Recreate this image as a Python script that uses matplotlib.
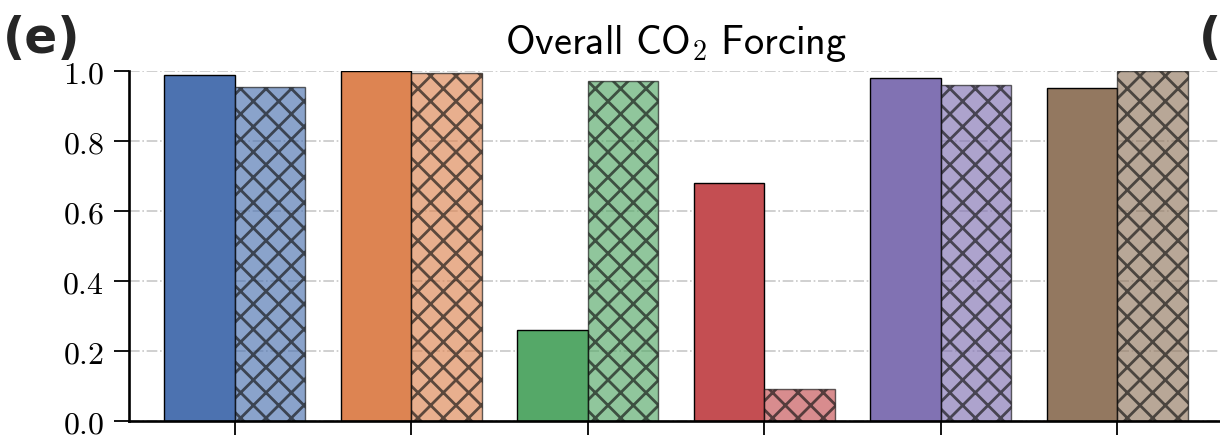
import numpy as np
import matplotlib
matplotlib.use('Agg')
import matplotlib.pyplot as plt
from matplotlib.ticker import FormatStrFormatter

# Values (solid bar, hatched bar per group)
groups = ['A', 'B', 'C', 'D', 'E', 'F']
solid_vals = [0.989, 1.000, 0.260, 0.680, 0.980, 0.951]
hatch_vals = [0.955, 0.994, 0.971, 0.091, 0.961, 1.000]
colors = ['#4C72B0', '#DD8452', '#55A868', '#C44E52', '#8172B3', '#937860']
y_ticks = [0.0, 0.2, 0.4, 0.6, 0.8, 1.0]

# lower dpi gives a finer hatch; S keeps text/line sizes in pixels the same
DPI = 76
S = 100 / DPI

plt.rcParams['mathtext.fontset'] = 'cm'
plt.rcParams['hatch.linewidth'] = 2.0 * S

fig = plt.figure(figsize=(1220 / DPI, 435 / DPI), dpi=DPI)
# axes runs slightly past the right edge, like the cropped original
ax = fig.add_axes([129 / 1220, 14 / 435, (1223 - 129) / 1220, 350 / 435])

x = np.arange(len(groups))
w = 0.4
ax.bar(x - w / 2, solid_vals, width=w, color=colors, edgecolor='black',
       linewidth=1.0 * S, zorder=2)
ax.bar(x + w / 2, hatch_vals, width=w, color=colors, edgecolor='#111111',
       linewidth=1.0 * S, hatch='x', alpha=0.65, zorder=2)

ax.set_xlim(-0.6, 5.6)
ax.set_ylim(0, 1.0)
ax.set_xticks(x)
ax.set_xticklabels([])
ax.set_yticks(y_ticks)
ax.yaxis.set_major_formatter(FormatStrFormatter('$%.1f$'))
ax.tick_params(axis='y', labelsize=23 * S, length=11 * S, width=1.3 * S,
               pad=7 * S, direction='out')
ax.tick_params(axis='x', length=10 * S, width=1.3 * S, direction='out')

ax.spines['top'].set_visible(False)
ax.spines['right'].set_visible(False)
ax.spines['left'].set_linewidth(1.9 * S)
ax.spines['bottom'].set_linewidth(1.9 * S)

ax.set_axisbelow(True)
ax.yaxis.grid(True, color='#c8c8c8', linestyle='-.', linewidth=1.2 * S)

ax.set_title(r'$\mathsf{Overall\ CO}_2\ \mathsf{Forcing}$', fontsize=29 * S,
             pad=12 * S)

fig.text(0.002, 0.965, '(e)', fontsize=35 * S, fontweight='bold', color='#262626',
         ha='left', va='top', family='DejaVu Sans')
fig.text(1199 / 1220, 0.965, '(f)', fontsize=35 * S, fontweight='bold',
         color='#262626', ha='left', va='top', family='DejaVu Sans')

fig.savefig('out.png', dpi=DPI)
